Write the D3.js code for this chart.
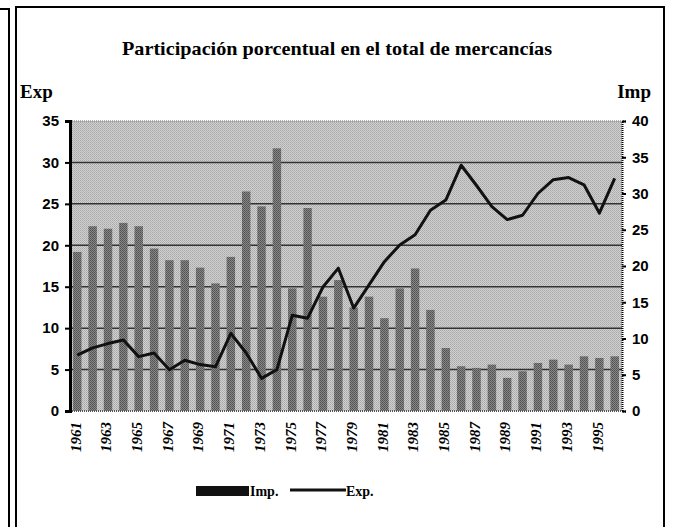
<!DOCTYPE html>
<html>
<head>
<meta charset="utf-8">
<script src="https://cdnjs.cloudflare.com/ajax/libs/d3/7.8.5/d3.min.js"></script>
<style>
  body { margin: 0; background: #fff; }
  svg { display: block; }
</style>
</head>
<body>
<div id="chart"></div>
<script>
// data
var years = d3.range(1961, 1997).map(String);
var tickYears = ["1961","1963","1965","1967","1969","1971","1973","1975","1977","1979","1981","1983","1985","1987","1989","1991","1993","1995"];
var impValues = [19.2, 22.3, 22.0, 22.7, 22.3, 19.6, 18.2, 18.2, 17.3, 15.4, 18.6, 26.5,
                 24.7, 31.7, 14.8, 24.5, 13.8, 15.8, 12.5, 13.8, 11.2, 14.8, 17.2, 12.2,
                 7.6, 5.4, 5.2, 5.6, 4.0, 4.8, 5.8, 6.2, 5.6, 6.6, 6.4, 6.6];
var expValues = [7.7, 8.7, 9.3, 9.8, 7.5, 8.0, 5.7, 7.0, 6.4, 6.1, 10.7, 8.0,
                 4.5, 5.7, 13.2, 12.8, 17.1, 19.7, 14.2, 17.4, 20.6, 22.9, 24.3, 27.7,
                 29.1, 33.9, 31.1, 28.2, 26.4, 27.0, 30.0, 31.9, 32.2, 31.2, 27.3, 32.1];
var leftTicks = [0, 5, 10, 15, 20, 25, 30, 35];
var rightTicks = [0, 5, 10, 15, 20, 25, 30, 35, 40];

var svgWidth = 682;
var svgHeight = 527;

var plot = { left: 70, right: 622, top: 121, bottom: 411 };

var svg = d3.select("#chart")
  .append("svg")
  .attr("width", svgWidth)
  .attr("height", svgHeight);

var defs = svg.append("defs");

// halftone-ish textures
var bgPat = defs.append("pattern")
  .attr("id", "bgPat")
  .attr("width", 2).attr("height", 2)
  .attr("patternUnits", "userSpaceOnUse");
bgPat.append("rect").attr("width", 2).attr("height", 2).attr("fill", "#d0d0d0");
bgPat.append("rect").attr("width", 1).attr("height", 1).attr("fill", "#a8a8a8");
bgPat.append("rect").attr("x", 1).attr("y", 1).attr("width", 1).attr("height", 1).attr("fill", "#b4b4b4");

var barPat = defs.append("pattern")
  .attr("id", "barPat")
  .attr("width", 2).attr("height", 2)
  .attr("patternUnits", "userSpaceOnUse");
barPat.append("rect").attr("width", 2).attr("height", 2).attr("fill", "#888");
barPat.append("rect").attr("width", 1).attr("height", 1).attr("fill", "#505050");
barPat.append("rect").attr("x", 1).attr("y", 1).attr("width", 1).attr("height", 1).attr("fill", "#5a5a5a");

// frames
svg.append("path")
  .attr("d", "M0,9 L9,9 L9,527")
  .attr("fill", "none")
  .attr("stroke", "#000")
  .attr("stroke-width", 2);

svg.append("path")
  .attr("d", "M16,527 L16,7 L664,7 L664,527")
  .attr("fill", "none")
  .attr("stroke", "#000")
  .attr("stroke-width", 2);

var xScale = d3.scaleBand()
  .domain(years)
  .range([plot.left, plot.right])
  .paddingInner(0.45)
  .paddingOuter(0.2);

var yLeft = d3.scaleLinear()
  .domain([0, 35])
  .range([plot.bottom, plot.top]);

var yRight = d3.scaleLinear()
  .domain([0, 40])
  .range([plot.bottom, plot.top]);

// plot background
svg.append("rect")
  .attr("x", plot.left)
  .attr("y", plot.top)
  .attr("width", plot.right - plot.left)
  .attr("height", plot.bottom - plot.top)
  .attr("fill", "url(#bgPat)");

// gridlines
svg.append("g")
  .selectAll("line")
  .data(leftTicks.filter(d => d > 0 && d < 35))
  .enter()
  .append("line")
  .attr("x1", plot.left)
  .attr("x2", plot.right)
  .attr("y1", d => yLeft(d))
  .attr("y2", d => yLeft(d))
  .attr("stroke", "#333")
  .attr("stroke-width", 1.5);

// top dotted border
svg.append("line")
  .attr("x1", plot.left).attr("x2", plot.right)
  .attr("y1", plot.top).attr("y2", plot.top)
  .attr("stroke", "#666")
  .attr("stroke-dasharray", "1,1");

svg.append("line")
  .attr("x1", plot.left).attr("x2", plot.right)
  .attr("y1", plot.bottom).attr("y2", plot.bottom)
  .attr("stroke", "#555")
  .attr("stroke-width", 2)
  .attr("stroke-dasharray", "1,1");

// Imp. bars
svg.append("g")
  .selectAll("rect")
  .data(impValues)
  .enter()
  .append("rect")
  .attr("x", (d, i) => xScale(years[i]))
  .attr("y", d => yLeft(d))
  .attr("width", xScale.bandwidth())
  .attr("height", d => plot.bottom - yLeft(d))
  .attr("fill", "url(#barPat)");

// Exp. line
var line = d3.line()
  .x((d, i) => xScale(years[i]) + xScale.bandwidth() / 2)
  .y(d => yRight(d));

svg.append("path")
  .datum(expValues)
  .attr("d", line)
  .attr("fill", "none")
  .attr("stroke", "#111")
  .attr("stroke-width", 3)
  .attr("stroke-linejoin", "round");

// axes
var leftAxis = d3.axisLeft(yLeft).tickValues(leftTicks).tickSize(5).tickPadding(6);
var rightAxis = d3.axisRight(yRight).tickValues(rightTicks).tickSize(4).tickPadding(6);

var gl = svg.append("g")
  .attr("transform", `translate(${plot.left}, 0)`)
  .call(leftAxis);
gl.select(".domain").attr("stroke-width", 3);
gl.selectAll(".tick line").attr("stroke-width", 2);
gl.selectAll("text")
  .attr("font-family", "Liberation Sans, sans-serif")
  .attr("font-weight", "bold")
  .attr("font-size", 15)
  .attr("fill", "#000");

var gr = svg.append("g")
  .attr("transform", `translate(${plot.right}, 0)`)
  .call(rightAxis);
gr.select(".domain").attr("stroke-width", 2).attr("stroke-dasharray", "1,1");
gr.selectAll(".tick line").attr("stroke-width", 2);
gr.selectAll("text")
  .attr("font-family", "Liberation Sans, sans-serif")
  .attr("font-weight", "bold")
  .attr("font-size", 15)
  .attr("fill", "#000");

// x labels
svg.append("g")
  .selectAll("text")
  .data(tickYears)
  .enter()
  .append("text")
  .attr("transform", d => `translate(${xScale(d) + xScale.bandwidth() / 2 - 2}, 422) rotate(-90)`)
  .attr("text-anchor", "end")
  .attr("dy", "0.35em")
  .attr("font-family", "Liberation Serif, serif")
  .attr("font-style", "italic")
  .attr("font-weight", "bold")
  .attr("font-size", 15)
  .text(d => d);

// title and axis captions
svg.append("text")
  .attr("x", 337)
  .attr("y", 55)
  .attr("text-anchor", "middle")
  .attr("font-family", "Liberation Serif, serif")
  .attr("font-weight", "bold")
  .attr("font-size", 19)
  .attr("textLength", 430)
  .attr("lengthAdjust", "spacingAndGlyphs")
  .text("Participación porcentual en el total de mercancías");

svg.append("text")
  .attr("x", 20)
  .attr("y", 98)
  .attr("font-family", "Liberation Serif, serif")
  .attr("font-weight", "bold")
  .attr("font-size", 19)
  .text("Exp");

svg.append("text")
  .attr("x", 651)
  .attr("y", 98)
  .attr("text-anchor", "end")
  .attr("font-family", "Liberation Serif, serif")
  .attr("font-weight", "bold")
  .attr("font-size", 19)
  .text("Imp");

// legend
var legend = svg.append("g").attr("transform", "translate(196, 491)");
legend.append("rect")
  .attr("x", 0).attr("y", -5)
  .attr("width", 53).attr("height", 10)
  .attr("fill", "#111");
legend.append("text")
  .attr("x", 54).attr("y", 5)
  .attr("font-family", "Liberation Serif, serif")
  .attr("font-weight", "bold")
  .attr("font-size", 14)
  .text("Imp.");
legend.append("line")
  .attr("x1", 94).attr("x2", 150)
  .attr("y1", -1).attr("y2", -1)
  .attr("stroke", "#111")
  .attr("stroke-width", 3);
legend.append("text")
  .attr("x", 150).attr("y", 5)
  .attr("font-family", "Liberation Serif, serif")
  .attr("font-weight", "bold")
  .attr("font-size", 14)
  .text("Exp.");
</script>
</body>
</html>
